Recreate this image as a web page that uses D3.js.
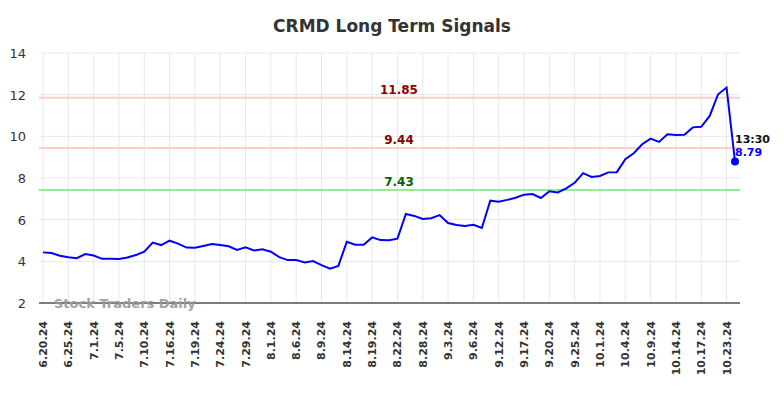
<!DOCTYPE html>
<meta charset="utf-8">
<style>
body { margin: 0; background: #fff; font-family: "DejaVu Sans", sans-serif; }
.grid line { stroke: #e8e8e8; stroke-width: 1; }
.axis text { fill: #333; }
</style>
<script src="https://d3js.org/d3.v7.min.js"></script>
<body>
<div id="chart"></div>
<script>
// trading days shown on the chart (month.day.yy)
var dates = ["6.20.24","6.21.24","6.24.24","6.25.24","6.26.24","6.28.24","7.1.24","7.2.24","7.3.24","7.5.24",
  "7.8.24","7.9.24","7.10.24","7.11.24","7.12.24","7.16.24","7.17.24","7.18.24","7.19.24","7.22.24",
  "7.23.24","7.24.24","7.25.24","7.26.24","7.29.24","7.30.24","7.31.24","8.1.24","8.2.24","8.5.24",
  "8.6.24","8.7.24","8.8.24","8.9.24","8.12.24","8.13.24","8.14.24","8.15.24","8.16.24","8.19.24",
  "8.20.24","8.21.24","8.22.24","8.23.24","8.26.24","8.28.24","8.29.24","8.30.24","9.3.24","9.4.24",
  "9.5.24","9.6.24","9.9.24","9.10.24","9.12.24","9.13.24","9.16.24","9.17.24","9.18.24","9.19.24",
  "9.20.24","9.23.24","9.24.24","9.25.24","9.26.24","9.27.24","10.1.24","10.2.24","10.3.24","10.4.24",
  "10.7.24","10.8.24","10.9.24","10.10.24","10.11.24","10.14.24","10.15.24","10.16.24","10.17.24","10.18.24",
  "10.22.24","10.23.24","10.24.24"];

var prices = [4.43,4.40,4.27,4.20,4.15,4.35,4.28,4.12,4.12,4.11,
  4.18,4.30,4.46,4.90,4.78,4.99,4.85,4.66,4.65,4.74,
  4.83,4.78,4.72,4.55,4.67,4.52,4.58,4.46,4.20,4.06,
  4.06,3.95,4.01,3.82,3.65,3.78,4.94,4.80,4.80,5.15,
  5.02,5.01,5.09,6.27,6.18,6.03,6.07,6.22,5.84,5.74,
  5.70,5.75,5.60,6.91,6.86,6.95,7.05,7.20,7.23,7.04,
  7.36,7.31,7.50,7.77,8.23,8.05,8.10,8.27,8.28,8.90,
  9.19,9.62,9.89,9.73,10.10,10.06,10.08,10.43,10.46,10.98,
  12.02,12.34,8.79];

var yTicks = [2, 4, 6, 8, 10, 12, 14];

var signalValues = [11.85, 9.44, 7.43];
var signalKinds = ["resistance", "resistance", "support"];

var lastTime = "13:30";

var W = 784, H = 398;
var margin = {top: 53, right: 44, bottom: 95, left: 39};

var svg = d3.select("#chart").append("svg")
  .attr("width", W).attr("height", H);

var x = d3.scaleLinear()
  .domain([0, dates.length - 1])
  .range([43, 735]);

var y = d3.scaleLinear()
  .domain([2, 14])
  .range([H - margin.bottom - 0, margin.top]);

var left = margin.left, right = W - margin.right;

// title
svg.append("text")
  .attr("x", W / 2).attr("y", 32)
  .attr("text-anchor", "middle")
  .style("font-size", "17px").style("font-weight", "bold").style("fill", "#333")
  .text("CRMD Long Term Signals");

// grid
var tickIdx = d3.range(0, dates.length, 3);
var grid = svg.append("g").attr("class", "grid");
grid.selectAll(".v").data(tickIdx).enter().append("line")
  .attr("x1", function(d) { return x(d); }).attr("x2", function(d) { return x(d); })
  .attr("y1", y(14)).attr("y2", y(2));
grid.selectAll(".h").data(yTicks).enter().append("line")
  .attr("x1", left).attr("x2", right)
  .attr("y1", function(d) { return y(d); }).attr("y2", function(d) { return y(d); });

// y labels
svg.append("g").attr("class", "axis")
  .selectAll("text").data(yTicks).enter().append("text")
  .attr("x", 26).attr("y", function(d) { return y(d) + 5; })
  .attr("text-anchor", "end")
  .style("font-size", "13px")
  .text(function(d) { return d; });

// x labels
svg.append("g").attr("class", "axis")
  .selectAll("text").data(tickIdx).enter().append("text")
  .attr("transform", function(d) { return "translate(" + (x(d) + 4) + ",321) rotate(-90)"; })
  .attr("text-anchor", "end")
  .style("font-size", "11px").style("font-weight", "bold")
  .text(function(d) { return dates[d]; });

// signal lines
var sigColor = {resistance: "#ffcccc", support: "#90ee90"};
var sigText = {resistance: "#8b0000", support: "#006400"};
signalValues.forEach(function(v, i) {
  var k = signalKinds[i];
  svg.append("line")
    .attr("x1", left).attr("x2", right)
    .attr("y1", y(v)).attr("y2", y(v))
    .style("stroke", sigColor[k]).style("stroke-width", 2);
  svg.append("text")
    .attr("x", 399).attr("y", y(v) - 4)
    .attr("text-anchor", "middle")
    .style("font-size", "12px").style("font-weight", "bold")
    .style("fill", sigText[k])
    .text(v.toFixed(2));
});

// bottom axis line
svg.append("line")
  .attr("x1", left).attr("x2", right)
  .attr("y1", y(2)).attr("y2", y(2))
  .style("stroke", "#555").style("stroke-width", 1.3);

// watermark
svg.append("text")
  .attr("x", 54).attr("y", 308)
  .style("font-size", "13px").style("font-weight", "bold")
  .style("fill", "#999").style("opacity", 0.9)
  .text("Stock Traders Daily");

// price line
var line = d3.line()
  .x(function(d, i) { return x(i); })
  .y(function(d) { return y(d); });

svg.append("path")
  .datum(prices)
  .attr("d", line)
  .style("fill", "none").style("stroke", "#0000ff").style("stroke-width", 2);

// last point
var li = prices.length - 1;
svg.append("circle")
  .attr("cx", x(li)).attr("cy", y(prices[li])).attr("r", 4)
  .style("fill", "#0000ff");
svg.append("text")
  .attr("x", x(li)).attr("y", y(prices[li]) - 19)
  .style("font-size", "11px").style("font-weight", "bold").style("fill", "#111")
  .text(lastTime);
svg.append("text")
  .attr("x", x(li)).attr("y", y(prices[li]) - 6)
  .style("font-size", "11px").style("font-weight", "bold").style("fill", "#0000ff")
  .text(prices[li].toFixed(2));
</script>
</body>
